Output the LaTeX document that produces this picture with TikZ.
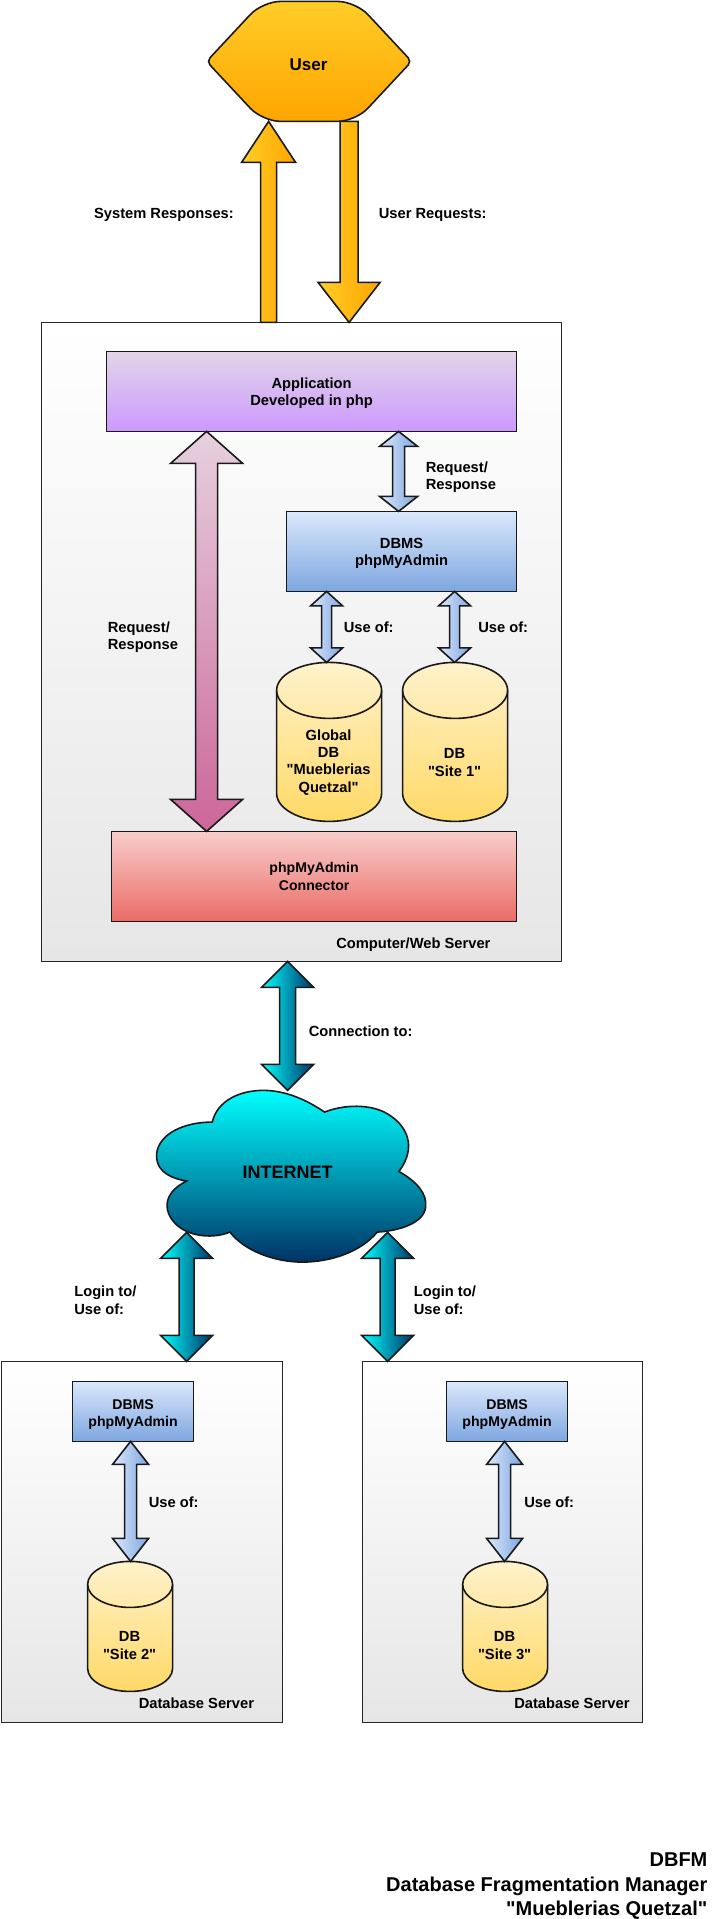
\documentclass[tikz,border=0pt]{standalone}
\usepackage{fontspec}
\setmainfont{Liberation Sans}[Ligatures=TeXOff]
\usetikzlibrary{calc}
\definecolor{orA}{HTML}{FFCD28}\definecolor{orB}{HTML}{FFA500}
\definecolor{blA}{HTML}{DAE8FC}\definecolor{blB}{HTML}{7EA6E0}
\definecolor{puA}{HTML}{E1D5E7}\definecolor{puB}{HTML}{CC99FF}
\definecolor{reA}{HTML}{F8CECC}\definecolor{reB}{HTML}{EA6B66}
\definecolor{yeA}{HTML}{FFF2CC}\definecolor{yeB}{HTML}{FFD966}
\definecolor{piA}{HTML}{E6D0DE}\definecolor{piB}{HTML}{CC6699}
\definecolor{teA}{HTML}{00FFFF}\definecolor{teB}{HTML}{003366}
\definecolor{grB}{HTML}{E6E6E6}
\tikzset{
  txt/.style={font=\fontsize{14.7}{17.4}\selectfont\bfseries,align=center,inner sep=0pt,text=black},
  stxt/.style={font=\fontsize{14.1}{17.4}\selectfont\bfseries},
  ltxt/.style={txt,align=left,anchor=west},
  outl/.style={draw=black!90,line width=1.6pt,line join=miter},
  rectn/.style={outl,inner sep=0pt,outer sep=0pt,txt},
  server/.style={rectn,draw=black!85,top color=white,bottom color=grB},
  appbox/.style={rectn,top color=puA,bottom color=puB},
  dbmsbox/.style={rectn,top color=blA,bottom color=blB},
  connbox/.style={rectn,stxt,top color=reA,bottom color=reB},
  holder/.style={inner sep=0pt,outer sep=0pt},
  orarrow/.style={outl,left color=orA,right color=orB},
  blarrow/.style={outl,left color=blA,right color=blB},
  piarrow/.style={outl,top color=piA,bottom color=piB},
  tearrow/.style={outl,left color=teA,right color=teB},
}
\newcommand\rectnode[7]{%
  \pgfmathsetmacro\rw{#4-#2}\pgfmathsetmacro\rh{#5-#3}%
  \node[#6,minimum width=\rw pt,minimum height=\rh pt] (#1) at ({(#2+#4)/2},{(#3+#5)/2}) {#7};}
% name, x0,y0,x1,y1, ry
\newcommand\cylnode[6]{%
  \pgfmathsetmacro\rw{#4-#2}\pgfmathsetmacro\rh{#5-#3}\pgfmathsetmacro\rrx{(#4-#2)/2}%
  \draw[outl,top color=yeA,bottom color=yeB] (#2,#3+#6) arc[start angle=180,end angle=0,x radius=\rrx pt,y radius=#6 pt]
     -- (#4,#5-#6) arc[start angle=0,end angle=-180,x radius=\rrx pt,y radius=#6 pt] -- cycle;
  \draw[outl] (#2,#3+#6) arc[start angle=180,end angle=360,x radius=\rrx pt,y radius=#6 pt];
  \node[holder,minimum width=\rw pt,minimum height=\rh pt] (#1) at ({(#2+#4)/2},{(#3+#5)/2}) {};}
% style, top, bottom, headhalf, headlen, shafthalf
\newcommand\dblarrow[6]{%
  \path[#1] (#2) -- ++(#4,#5) -- ++(#6-#4,0) -- ($(#3)+(#6,-#5)$) -- ++(#4-#6,0) -- (#3)
    -- ++(-#4,-#5) -- ++(#4-#6,0) -- ($(#2)+(-#6,#5)$) -- ++(#6-#4,0) -- cycle;}
\newcommand\blockup[6]{%
  \path[#1] (#2) -- ++(#4,#5) -- ++(#6-#4,0) -- ($(#3)+(#6,0)$) -- ($(#3)+(-#6,0)$) -- ($(#2)+(-#6,#5)$) -- ++(#6-#4,0) -- cycle;}
\newcommand\blockdown[6]{%
  \path[#1] (#3) -- ++(-#4,-#5) -- ++(#4-#6,0) -- ($(#2)+(-#6,0)$) -- ($(#2)+(#6,0)$) -- ($(#3)+(#6,-#5)$) -- ++(#4-#6,0) -- cycle;}
\begin{document}
\begin{tikzpicture}[x=1pt,y=-1pt]
\useasboundingbox (0,0) rectangle (724,1919);
\begin{scope}[xshift=0.6pt,yshift=-0.4pt]
% user
\draw[outl,top color=orA,bottom color=orB,rounded corners=5pt] (206,61)
  [rounded corners=18pt] -- (262,1) -- (355,1) [rounded corners=5pt] -- (411,61) [rounded corners=18pt] -- (355,121) -- (262,121) [rounded corners=5pt] -- cycle;
\rectnode{user}{208}{1}{409}{121}{holder}{}
\node[txt,font=\fontsize{17}{19}\selectfont\bfseries] (usertxt) at (308,64) {User};
% servers
\rectnode{web}{41}{322}{561}{961}{server}{}
\rectnode{site2}{1}{1361}{282}{1722}{server}{}
\rectnode{site3}{362}{1361}{642}{1722}{server}{}
% boxes
\rectnode{app}{106}{351}{516}{431}{appbox}{\raisebox{-5.5pt}[0pt][0pt]{\begin{tabular}{@{}c@{}}Application\\[-0.6pt]Developed in php\end{tabular}}}
\rectnode{dbms}{286}{511}{516}{591}{dbmsbox}{\raisebox{-6pt}[0pt][0pt]{\begin{tabular}{@{}c@{}}DBMS\\[-0.6pt]phpMyAdmin\end{tabular}}}
\rectnode{conn}{111}{831}{516}{921}{connbox}{phpMyAdmin\\Connector}
\rectnode{dbmsb}{72}{1381}{193}{1441}{dbmsbox,stxt}{\raisebox{-6.7pt}[0pt][0pt]{\begin{tabular}{@{}c@{}}DBMS\\[0.4pt]phpMyAdmin\end{tabular}}}
\rectnode{dbmsc}{446}{1381}{567}{1441}{dbmsbox,stxt}{\raisebox{-6.7pt}[0pt][0pt]{\begin{tabular}{@{}c@{}}DBMS\\[0.4pt]phpMyAdmin\end{tabular}}}
% cylinders
\cylnode{cyla}{276}{662}{381}{821}{28}
\cylnode{cylb}{402}{662}{507}{821}{28}
\cylnode{cylc}{87}{1561}{172}{1691}{23}
\cylnode{cyld}{462}{1561}{547}{1691}{23}
\node[txt] (cylatxt) at (328,762) {Global\\DB\\"Mueblerias\\Quetzal"};
\node[txt] (cylbtxt) at (454,762) {DB\\"Site 1"};
\node[txt] (cylctxt) at (129,1645) {DB\\"Site 2"};
\node[txt] (cyldtxt) at (504,1645) {DB\\"Site 3"};
% cloud
\begin{scope}[shift={(130,950)}]
\begin{scope}[x=0.33333pt,y=-0.33333pt]
\draw[outl,top color=teA,bottom color=teB] (245,515) .. controls (260,450) and (330,418) .. (405,420) .. controls (470,422) and (530,450) .. (582,485)
 .. controls (640,462) and (720,460) .. (770,490) .. controls (830,525) and (860,590) .. (805,663)
 .. controls (860,695) and (890,730) .. (885,770) .. controls (880,820) and (800,842) .. (740,845)
 .. controls (690,905) and (600,935) .. (515,935) .. controls (430,935) and (340,900) .. (298,845)
 .. controls (250,865) and (180,860) .. (140,825) .. controls (100,790) and (90,730) .. (168,692)
 .. controls (100,680) and (75,650) .. (78,610) .. controls (85,550) and (160,515) .. (245,515) -- cycle;
\end{scope}
\end{scope}
\rectnode{cloud}{156}{1090}{425}{1262}{holder}{}
\node[txt,font=\fontsize{18}{20}\selectfont\bfseries] (inettxt) at (287,1172) {INTERNET};
% connector ends
\coordinate (u1) at (268,0 |- user.south);
\coordinate (u2) at (268,0 |- web.north);
\coordinate (d1) at (348.5,0 |- user.south);
\coordinate (d2) at (348.5,0 |- web.north);
\coordinate (p1) at (206,0 |- app.south);
\coordinate (p2) at (206,0 |- conn.north);
\coordinate (r1) at (398,0 |- app.south);
\coordinate (r2) at (398,0 |- dbms.north);
\coordinate (ua1) at (326,0 |- dbms.south);
\coordinate (ua2) at (326,0 |- cyla.north);
\coordinate (ub1) at (454,0 |- dbms.south);
\coordinate (ub2) at (454,0 |- cylb.north);
\coordinate (c1) at (287,0 |- web.south);
\coordinate (c2) at (287,0 |- cloud.north);
\coordinate (l1) at (186,1232);
\coordinate (l2) at (186,0 |- site2.north);
\coordinate (m1) at (387,1232);
\coordinate (m2) at (387,0 |- site3.north);
\coordinate (s1) at (130,0 |- dbmsb.south);
\coordinate (s2) at (130,0 |- cylc.north);
\coordinate (t1) at (504,0 |- dbmsc.south);
\coordinate (t2) at (504,0 |- cyld.north);
\blockup{orarrow}{u1}{u2}{27}{41}{8}
\blockdown{orarrow}{d1}{d2}{31}{40}{9}
\dblarrow{piarrow}{p1}{p2}{36}{32}{11}
\dblarrow{blarrow}{r1}{r2}{19}{15}{6}
\dblarrow{blarrow}{ua1}{ua2}{16}{14.5}{5}
\dblarrow{blarrow}{ub1}{ub2}{16}{14.5}{5}
\dblarrow{tearrow}{c1}{c2}{26}{26}{8}
\dblarrow{tearrow}{l1}{l2}{26}{26}{7.5}
\dblarrow{tearrow}{m1}{m2}{26}{26}{7.5}
\dblarrow{blarrow}{s1}{s2}{18}{23}{6}
\dblarrow{blarrow}{t1}{t2}{18}{23}{6}
% labels
\node[ltxt] (la) at (93.3,214.5) {System Responses:};
\node[ltxt] (lb) at (378,214.5) {User Requests:};
\node[ltxt] (lc) at (425,477) {Request/\\Response};
\node[ltxt] (ld) at (107,637) {Request/\\Response};
\node[ltxt] (le) at (343,627) {Use of:};
\node[ltxt] (lf) at (477.5,627) {Use of:};
\node[ltxt] (lg) at (335.5,944) {Computer/Web Server};
\node[ltxt] (lh) at (308,1031) {Connection to:};
\node[ltxt] (li) at (73.5,1300) {Login to/\\Use of:};
\node[ltxt] (lj) at (413,1300) {Login to/\\Use of:};
\node[ltxt] (lk) at (148,1502) {Use of:};
\node[ltxt] (ll) at (523.5,1502) {Use of:};
\node[ltxt] (lm) at (138,1703) {Database Server};
\node[ltxt] (ln) at (513.5,1703) {Database Server};
\node[txt,font=\fontsize{20}{24.5}\selectfont\bfseries,align=right,anchor=east] (foot) at (707,1886) {DBFM\\Database Fragmentation Manager\\"Mueblerias Quetzal"};
\end{scope}
\end{tikzpicture}
\end{document}
